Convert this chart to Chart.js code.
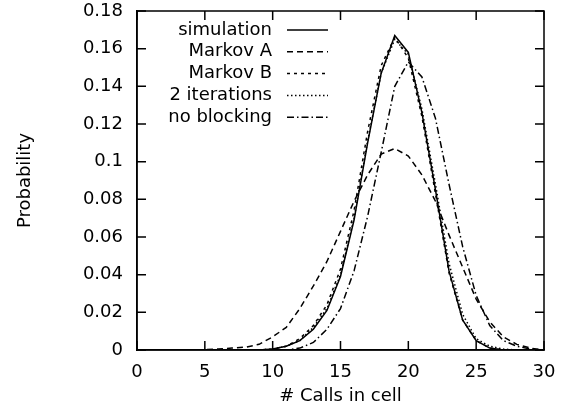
<!DOCTYPE html>
<html>
<head>
<meta charset="utf-8">
<script src="https://cdn.jsdelivr.net/npm/chart.js@4.4.0/dist/chart.umd.min.js"></script>
<style>
  html, body { margin: 0; padding: 0; background: #fff; }
  #wrap { width: 565px; height: 407px; }
</style>
</head>
<body>
<div id="wrap"><canvas id="c" width="565" height="407"></canvas></div>
<script>
// ---- data ----
const calls = [0,1,2,3,4,5,6,7,8,9,10,11,12,13,14,15,16,17,18,19,20,21,22,23,24,25,26,27,28,29,30];
const simulation = [0,0,0,0,0,0,0,0,0,0,0.0005,0.002,0.005,0.011,0.021,0.039,0.069,0.110,0.147,0.167,0.158,0.126,0.085,0.042,0.016,0.005,0.001,0,0,0,0];
const markovA = [0,0,0,0,0,0.0002,0.0005,0.001,0.0015,0.003,0.007,0.012,0.022,0.034,0.047,0.063,0.079,0.093,0.104,0.107,0.103,0.093,0.079,0.061,0.044,0.027,0.015,0.007,0.003,0.001,0];
const markovB = [0,0,0,0,0,0,0,0,0,0,0.0005,0.002,0.006,0.013,0.024,0.043,0.074,0.116,0.151,0.166,0.155,0.124,0.083,0.041,0.016,0.005,0.001,0,0,0,0];
const twoIterations = [0,0,0,0,0,0,0,0,0,0,0.0005,0.002,0.005,0.012,0.022,0.040,0.070,0.111,0.147,0.165,0.157,0.128,0.088,0.046,0.019,0.006,0.002,0.0005,0,0,0];
const noBlocking = [0,0,0,0,0,0,0,0,0,0,0,0,0.001,0.004,0.011,0.022,0.042,0.071,0.105,0.140,0.153,0.145,0.123,0.088,0.055,0.029,0.013,0.005,0.002,0.0005,0];
const seriesNames = ['simulation','Markov A','Markov B','2 iterations','no blocking'];
const xTicks = [0,5,10,15,20,25,30];
const yTicks = [0,0.02,0.04,0.06,0.08,0.1,0.12,0.14,0.16,0.18];

const FONT = "'DejaVu Sans', sans-serif";
const FS = 18;

function pts(arr) { return calls.map((x, i) => ({x: x, y: arr[i]})); }
const dashes = [[], [6,4], [3,4], [1.5,2.5], [7,3,1.5,3]];
const allSeries = [simulation, markovA, markovB, twoIterations, noBlocking];

const datasets = allSeries.map((s, i) => ({
  label: seriesNames[i],
  data: pts(s),
  borderColor: '#000',
  borderWidth: 1.5,
  borderDash: dashes[i],
  pointRadius: 0,
  tension: 0,
  fill: false
}));

const frameAndTicks = {
  id: 'frameAndTicks',
  afterDatasetsDraw(chart) {
    const {ctx, chartArea: a, scales: {x, y}} = chart;
    ctx.save();
    ctx.strokeStyle = '#000';
    ctx.lineWidth = 1.5;
    ctx.setLineDash([]);
    ctx.strokeRect(a.left, a.top, a.right - a.left, a.bottom - a.top);
    const L = 9;
    ctx.beginPath();
    xTicks.forEach(v => {
      const px = x.getPixelForValue(v);
      ctx.moveTo(px, a.bottom); ctx.lineTo(px, a.bottom - L);
      ctx.moveTo(px, a.top); ctx.lineTo(px, a.top + L);
    });
    yTicks.forEach(v => {
      const py = y.getPixelForValue(v);
      ctx.moveTo(a.left, py); ctx.lineTo(a.left + L, py);
      ctx.moveTo(a.right, py); ctx.lineTo(a.right - L, py);
    });
    ctx.stroke();

    // legend (inside plot, gnuplot style)
    const textRight = a.left + 135;
    const lineStart = a.left + 150;
    const lineEnd = a.left + 191;
    const row0 = a.top + 19;
    const step = 21.8;
    ctx.font = FS + 'px ' + FONT;
    ctx.fillStyle = '#000';
    ctx.textAlign = 'right';
    ctx.textBaseline = 'middle';
    chart.data.datasets.forEach((ds, i) => {
      const yy = row0 + i * step;
      ctx.fillText(ds.label, textRight, yy);
      ctx.beginPath();
      ctx.setLineDash(ds.borderDash);
      ctx.lineWidth = 1.5;
      ctx.moveTo(lineStart, yy);
      ctx.lineTo(lineEnd, yy);
      ctx.stroke();
    });
    ctx.restore();
  }
};

new Chart(document.getElementById('c'), {
  type: 'line',
  data: { datasets: datasets },
  options: {
    responsive: false,
    animation: false,
    devicePixelRatio: 1,
    layout: { padding: 0 },
    plugins: { legend: { display: false }, tooltip: { enabled: false } },
    scales: {
      x: {
        type: 'linear',
        min: 0, max: 30,
        afterFit(s) { s.height = 57; s.paddingLeft = 0; s.paddingRight = 21; },
        afterBuildTicks(s) { s.ticks = xTicks.map(v => ({value: v})); },
        grid: { display: false, drawTicks: false },
        border: { display: true, color: '#000', width: 1.5 },
        ticks: { color: '#000', padding: 12, font: { family: FONT, size: FS }, maxRotation: 0 },
        title: { display: true, text: '# Calls in cell', color: '#000', font: { family: FONT, size: FS }, padding: { top: 0, bottom: 0 } }
      },
      y: {
        type: 'linear',
        min: 0, max: 0.18,
        afterFit(s) { s.width = 137; s.paddingTop = 11; s.paddingBottom = 0; },
        afterBuildTicks(s) { s.ticks = yTicks.map(v => ({value: v})); },
        grid: { display: false, drawTicks: false },
        border: { display: true, color: '#000', width: 1.5 },
        ticks: { color: '#000', padding: 14, font: { family: FONT, size: FS },
          callback: v => String(parseFloat(Number(v).toFixed(2))) },
        title: { display: true, text: 'Probability', color: '#000', font: { family: FONT, size: FS }, padding: { top: 15, bottom: 0 } }
      }
    }
  },
  plugins: [frameAndTicks]
});
</script>
</body>
</html>
